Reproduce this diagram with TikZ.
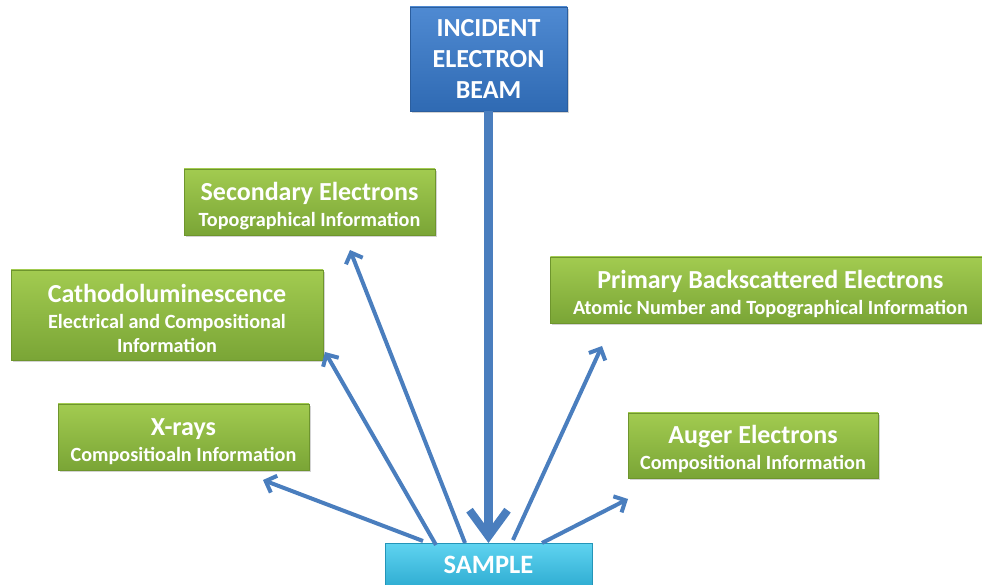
\documentclass[tikz,border=0pt]{standalone}
\usepackage{fontspec}
\setmainfont{Carlito}
\usetikzlibrary{arrows.meta,shadows,calc}
\definecolor{arrowblue}{HTML}{4A7EBE}
\definecolor{greentop}{HTML}{A2CB50}
\definecolor{greenbot}{HTML}{7AA536}
\definecolor{greenline}{HTML}{6E952D}
\definecolor{bluetop}{HTML}{4F8AD2}
\definecolor{bluebot}{HTML}{2F6AB3}
\definecolor{blueline}{HTML}{2B5E9E}
\definecolor{cyantop}{HTML}{5FD3F0}
\definecolor{cyanbot}{HTML}{2AA9CF}
\definecolor{cyanline}{HTML}{2495B8}
\tikzset{
  gbox/.style={draw=greenline, line width=0.8pt, top color=greentop, bottom color=greenbot,
    text=white, align=center, font=\fontsize{20.2}{24}\selectfont\bfseries, inner sep=0pt,
    drop shadow={opacity=0.35, shadow xshift=2pt, shadow yshift=-2pt}},
  bbox/.style={draw=blueline, line width=0.8pt, top color=bluetop, bottom color=bluebot,
    text=white, align=center, font=\fontsize{26}{31}\selectfont\bfseries, inner sep=0pt,
    drop shadow={opacity=0.35, shadow xshift=2pt, shadow yshift=-2pt}},
  cbox/.style={draw=cyanline, line width=0.8pt, top color=cyantop, bottom color=cyanbot,
    inner sep=0pt},
  ray/.style={draw=arrowblue, line width=4pt, -{Straight Barb[length=9pt,width=18pt,line width=4pt]}},
  beam/.style={draw=arrowblue, line width=9pt, -{Straight Barb[length=26pt,width=38pt,line width=8pt]}},
}
\newcommand{\hd}[1]{{\fontsize{26}{28}\selectfont\rule{0pt}{26pt}#1}}
\begin{document}
\begin{tikzpicture}[x=1pt,y=1pt]
\useasboundingbox (0,0) rectangle (982,585);
% boxes
\node[bbox, minimum width=157pt, minimum height=104pt] (beamsrc) at (488.5,526) {INCIDENT\\ELECTRON\\BEAM};
\node[cbox, minimum width=207pt, minimum height=48pt, anchor=north] (sample) at (488.5,42) {};
\node[font=\fontsize{26.5}{30}\selectfont\bfseries, text=white] (samplelabel) at (488.5,20) {SAMPLE};
\node[gbox, minimum width=251pt, minimum height=66pt] (se) at (309.5,383)
  {\hd{Secondary Electrons}\\[2pt]Topographical Information};
\node[gbox, minimum width=312pt, minimum height=90pt] (cl) at (167,270)
  {\hd{Cathodoluminescence}\\[2pt]Electrical and Compositional\\Information};
\node[gbox, minimum width=251pt, minimum height=66pt] (xr) at (183.5,148)
  {\hd{X-rays}\\[2pt]Compositioaln Information};
\node[gbox, minimum width=440pt, minimum height=66pt, anchor=west] (bse) at (550,295)
  {\hd{Primary Backscattered Electrons}\\[2pt]Atomic Number and Topographical Information};
\node[gbox, minimum width=250pt, minimum height=65pt] (au) at (753,139.5)
  {\hd{Auger Electrons}\\[2pt]Compositional Information};
% free ends of rays
\coordinate (xrtail) at (423,44);
\coordinate (xrtip) at (263,105);
\coordinate (cltail) at (436,40);
\coordinate (cltip) at (325,233);
\coordinate (setail) at (465,42);
\coordinate (setip) at (350,335);
\coordinate (bsetail) at (513,45);
\coordinate (bsetip) at (602,239);
\coordinate (autail) at (542,42);
\coordinate (autip) at (628,86);
\coordinate (beamtip) at (488.5,42);
% connectors
\draw[beam] (beamsrc.south) -- (beamtip);
\draw[ray] (xrtail) -- (xrtip);
\draw[ray] (cltail) -- (cltip);
\draw[ray] (setail) -- (setip);
\draw[ray] (bsetail) -- (bsetip);
\draw[ray] (autail) -- (autip);
\end{tikzpicture}
\end{document}
